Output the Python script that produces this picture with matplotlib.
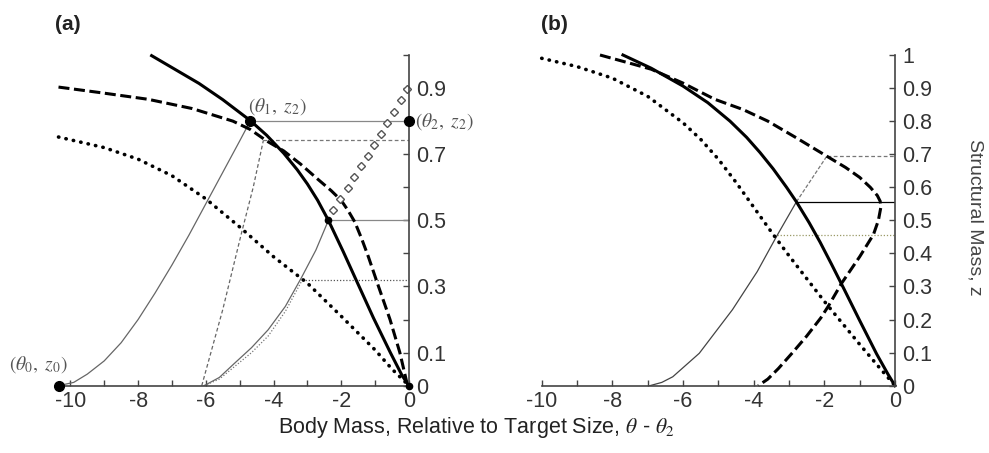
import numpy as np
import matplotlib
matplotlib.use("Agg")
import matplotlib.pyplot as plt

plt.rcParams['font.family'] = ['Liberation Sans', 'DejaVu Sans']
plt.rcParams['mathtext.fontset'] = 'stix'
plt.rcParams['axes.unicode_minus'] = False

# ---- panel (a) data ----
a_solid_x = [-7.6, -6.9, -6.2, -5.5, -4.69, -4.2, -3.7, -3.3, -3.0, -2.7, -2.38, -1.94, -1.5,
             -1.05, -0.55, -0.2, 0]
a_solid_z = [0.998, 0.956, 0.914, 0.865, 0.802, 0.757, 0.703, 0.653, 0.61, 0.561, 0.50, 0.405, 0.306,
             0.205, 0.10, 0.03, 0]

a_dash_x = [-10.35, -9.1, -7.7, -6.4, -5.2, -4.69, -4.2, -3.7, -3.2, -2.7, -2.3, -2.0, -1.8, -1.6,
            -1.4, -1.2, -0.9, -0.56, -0.27, -0.07, 0]
a_dash_z = [0.903, 0.886, 0.866, 0.838, 0.80, 0.775, 0.74, 0.71, 0.67, 0.625, 0.59, 0.56, 0.53, 0.495,
            0.445, 0.39, 0.30, 0.20, 0.10, 0.012, 0]

a_dot_x = [-10.35, -9, -8, -7, -6, -5, -4, -3, -2, -1, -0.5, 0]
a_dot_z = [0.752, 0.72, 0.685, 0.635, 0.565, 0.48, 0.39, 0.31, 0.21, 0.108, 0.05, 0]

# thin growth trajectories
a_traj1_x = [-10.35, -9.9, -9.5, -9.0, -8.5, -8.0, -7.5, -7.0, -6.5, -6.0, -5.5, -5.0, -4.69]
a_traj1_z = [0, 0.01, 0.035, 0.075, 0.13, 0.20, 0.28, 0.365, 0.455, 0.55, 0.645, 0.74, 0.80]
a_traj2_x = [-6.12, -5.5, -4.95, -4.6, -4.3]
a_traj2_z = [0, 0.23, 0.46, 0.60, 0.742]
a_traj3_x = [-6.05, -5.6, -5.15, -4.65, -4.16, -3.65, -3.18, -2.75, -2.38]
a_traj3_z = [0, 0.025, 0.068, 0.115, 0.169, 0.24, 0.326, 0.41, 0.50]
a_traj4_x = [-6.05, -5.6, -5.15, -4.65, -4.16, -3.65, -3.15]
a_traj4_z = [0, 0.02, 0.058, 0.10, 0.15, 0.225, 0.32]

# horizontal guide levels (start x, level)
a_h_solid = [(-4.69, 0.80), (-2.38, 0.50)]
a_h_dash = [(-4.3, 0.742)]
a_h_dot = [(-3.15, 0.32)]

# open diamonds
a_diam_x = [-2.23, -2.04, -1.81, -1.61, -1.42, -1.22, -1.03, -0.84, -0.64, -0.44, -0.25, -0.05]
a_diam_z = [0.532, 0.565, 0.598, 0.630, 0.664, 0.696, 0.729, 0.762, 0.795, 0.828, 0.863, 0.896]

a_points_x = [-10.35, -4.69, 0]
a_points_z = [0, 0.80, 0.80]
a_labels = [r'$(\theta_0,\ z_0)$', r'$(\theta_1,\ z_2)$', r'$(\theta_2,\ z_2)$']

# ---- panel (b) data ----
b_solid_x = [-7.7, -6.9, -6.0, -5.3, -4.67, -4.2, -3.82, -3.45, -3.07, -2.79, -2.43, -2.12, -1.8,
             -1.46, -0.99, -0.52, -0.2, 0]
b_solid_z = [1.0, 0.96, 0.906, 0.856, 0.80, 0.751, 0.705, 0.656, 0.60, 0.556, 0.493, 0.434, 0.368,
             0.296, 0.195, 0.096, 0.035, 0]

b_dash_x = [-8.35, -7.4, -6.9, -6.0, -5.1, -4.3, -3.6, -2.8, -1.93, -1.4, -1.0, -0.7, -0.5, -0.42,
            -0.40, -0.47, -0.61, -1.0, -1.51, -1.89, -2.1, -2.5, -2.9, -3.3, -3.6, -3.87]
b_dash_z = [1.0, 0.972, 0.957, 0.915, 0.866, 0.835, 0.80, 0.75, 0.694, 0.66, 0.63, 0.60, 0.575, 0.558,
            0.54, 0.50, 0.457, 0.39, 0.31, 0.24, 0.205, 0.15, 0.10, 0.052, 0.02, 0]

b_dot_x = [-10, -9, -8, -7, -6, -5.5, -5, -4.5, -4, -3.5, -3, -2, -1, -0.5, 0]
b_dot_z = [0.99, 0.965, 0.93, 0.875, 0.795, 0.745, 0.685, 0.615, 0.54, 0.465, 0.393, 0.255, 0.125,
           0.062, 0]

b_traj1_x = [-6.94, -6.6, -6.29, -5.54, -4.6, -3.9, -3.35, -2.79]
b_traj1_z = [0, 0.01, 0.027, 0.098, 0.23, 0.345, 0.452, 0.556]
b_traj2_x = [-2.79, -1.93]
b_traj2_z = [0.556, 0.694]

b_h_solid = [(-2.79, 0.556)]
b_h_dash = [(-1.93, 0.694)]
b_h_dot = [(-3.33, 0.455)]

fig = plt.figure(figsize=(9.89, 4.53), dpi=100)
ax_a = fig.add_axes([58.5 / 989, 67.3 / 453, 350.5 / 989, 330.7 / 453])
ax_b = fig.add_axes([541.7 / 989, 67.3 / 453, 353.3 / 989, 330.7 / 453])

thick = 2.2
dash_style = (0, (3.6, 1.5))
dot_style = (0, (0.1, 2.0))


def style_axes(ax, xmin, ylabels):
    ax.set_xlim(xmin, 0)
    ax.set_ylim(0, 1)
    for s in ['left', 'top']:
        ax.spines[s].set_visible(False)
    for s in ['right', 'bottom']:
        ax.spines[s].set_color('#444444')
        ax.spines[s].set_linewidth(1.2)
    ax.yaxis.tick_right()
    ax.set_xticks(np.arange(-10, 1, 2))
    ax.set_xticks(np.arange(-10, 1, 1), minor=True)
    yt = np.round(np.arange(0, 1.01, 0.1), 1)
    ax.set_yticks(yt)
    ax.set_yticklabels([('%g' % v) if v in ylabels else '' for v in yt])
    ax.tick_params(axis='both', which='both', direction='in', length=4, width=1,
                   colors='#444444', labelsize=15.5, labelcolor='#333333')
    ax.tick_params(axis='y', pad=5)
    ax.tick_params(axis='x', pad=4)
    ax.patch.set_alpha(0)


# panel (a)
ax = ax_a
for x0, lvl in a_h_solid:
    ax.plot([x0, 0], [lvl, lvl], color='#888888', lw=0.9)
for x0, lvl in a_h_dash:
    ax.plot([x0, 0], [lvl, lvl], color='#777777', lw=0.9, ls=(0, (3, 2)))
for x0, lvl in a_h_dot:
    ax.plot([x0, 0], [lvl, lvl], color='#555555', lw=0.9, ls=(0, (1, 1.5)))
ax.plot(a_traj1_x, a_traj1_z, color='#666666', lw=0.9)
ax.plot(a_traj2_x, a_traj2_z, color='#666666', lw=0.9, ls=(0, (3, 2)))
ax.plot(a_traj3_x, a_traj3_z, color='#666666', lw=0.9)
ax.plot(a_traj4_x, a_traj4_z, color='#777777', lw=0.9, ls=(0, (1, 1.5)))
ax.plot(a_dot_x, a_dot_z, color='black', lw=2.6, ls=dot_style, dash_capstyle='round', clip_on=False)
ax.plot(a_dash_x, a_dash_z, color='black', lw=thick, ls=dash_style, clip_on=False)
ax.plot(a_solid_x, a_solid_z, color='black', lw=thick, clip_on=False)
ax.plot(a_diam_x, a_diam_z, ls='none', marker='D', ms=4.2, mfc='white', mec='#555555', mew=1.0,
        clip_on=False)
ax.plot(a_points_x, a_points_z, ls='none', marker='o', ms=7, color='black', clip_on=False, zorder=5)
ax.plot([-2.38, 0], [0.5, 0], ls='none', marker='o', ms=4.5, color='black', clip_on=False, zorder=5)
ax.text(-10.95, 0.065, a_labels[0], fontsize=14, color='#555555', ha='center', va='center')
ax.text(-3.88, 0.845, a_labels[1], fontsize=14, color='#555555', ha='center', va='center')
ax.text(0.18, 0.80, a_labels[2], fontsize=14, color='#555555', ha='left', va='center',
        clip_on=False)
style_axes(ax, -10.35, [0, 0.1, 0.3, 0.5, 0.7, 0.9])

# panel (b)
ax = ax_b
for x0, lvl in b_h_solid:
    ax.plot([x0, 0], [lvl, lvl], color='black', lw=0.9)
for x0, lvl in b_h_dash:
    ax.plot([x0, 0], [lvl, lvl], color='#777777', lw=0.9, ls=(0, (3, 2)))
for x0, lvl in b_h_dot:
    ax.plot([x0, 0], [lvl, lvl], color='#999966', lw=0.9, ls=(0, (1, 1.5)))
ax.plot(b_traj1_x, b_traj1_z, color='#444444', lw=0.9)
ax.plot(b_traj2_x, b_traj2_z, color='#777777', lw=0.9, ls=(0, (3, 1.5)))
ax.plot(b_dot_x, b_dot_z, color='black', lw=2.6, ls=dot_style, dash_capstyle='round', clip_on=False)
ax.plot(b_dash_x, b_dash_z, color='black', lw=thick, ls=dash_style, clip_on=False)
ax.plot(b_solid_x, b_solid_z, color='black', lw=thick, clip_on=False)
style_axes(ax, -10, [0, 0.1, 0.2, 0.3, 0.4, 0.5, 0.6, 0.7, 0.8, 0.9, 1.0])

fig.text(55 / 989, 1 - 25 / 453, '(a)', fontsize=15, fontweight='bold', color='#222222', va='center')
fig.text(541 / 989, 1 - 25 / 453, '(b)', fontsize=15, fontweight='bold', color='#222222', va='center')
fig.text(476 / 989, 1 - 428 / 453, r'Body Mass, Relative to Target Size, $\theta$ - $\theta_2$',
         fontsize=15.5, color='#222222', ha='center', va='center')
fig.text(975 / 989, 1 - 217 / 453, 'Structural Mass, z', fontsize=14, color='#444444',
         rotation=270, ha='center', va='center')

fig.savefig('out.png', dpi=100)
